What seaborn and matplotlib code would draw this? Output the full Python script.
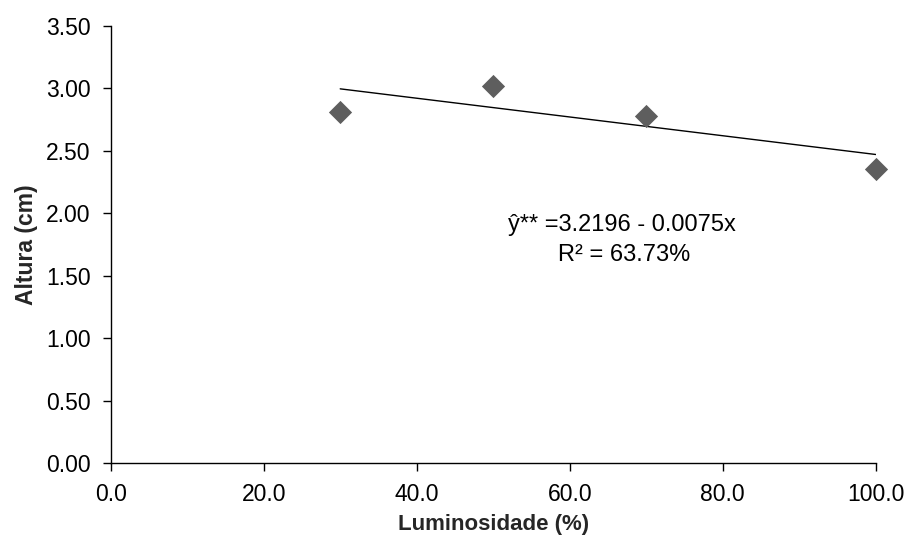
import matplotlib
matplotlib.use("Agg")
import matplotlib.pyplot as plt
import seaborn as sns
import pandas as pd
from matplotlib.ticker import FormatStrFormatter

# Data
luminosidade = [30, 50, 70, 100]
altura = [2.81, 3.02, 2.78, 2.35]
trend_x = [30, 100]
trend_y = [2.995, 2.47]
x_ticks = [0, 20, 40, 60, 80, 100]
y_ticks = [0.0, 0.5, 1.0, 1.5, 2.0, 2.5, 3.0, 3.5]
equation_text = "ŷ** =3.2196 - 0.0075x"
r2_text = "R² = 63.73%"

df = pd.DataFrame({"Luminosidade": luminosidade, "Altura": altura})
trend = pd.DataFrame({"x": trend_x, "y": trend_y})

sns.set_style("white")
plt.rcParams["font.family"] = ["Liberation Sans", "DejaVu Sans"]

fig = plt.figure(figsize=(9.09, 5.40), dpi=100)
ax = fig.add_axes([0.1218, 0.142, 0.8416, 0.8104])

sns.lineplot(data=trend, x="x", y="y", ax=ax, color="black", linewidth=1.0)
sns.scatterplot(data=df, x="Luminosidade", y="Altura", ax=ax, marker="D",
                s=140, color="#5e5e5e", linewidth=0, zorder=3)
for coll in ax.collections:
    coll.set_clip_on(False)

ax.set_xlim(0, 100)
ax.set_ylim(0, 3.5)
ax.set_xticks(x_ticks)
ax.set_yticks(y_ticks)
ax.xaxis.set_major_formatter(FormatStrFormatter("%.1f"))
ax.yaxis.set_major_formatter(FormatStrFormatter("%.2f"))
ax.tick_params(axis="both", direction="out", length=6, width=1, color="black",
               labelsize=16.5, labelcolor="black", bottom=True, left=True)
ax.tick_params(axis="y", pad=8.5)
ax.tick_params(axis="x", pad=8)

for side in ["top", "right"]:
    ax.spines[side].set_visible(False)
for side in ["left", "bottom"]:
    ax.spines[side].set_color("black")
    ax.spines[side].set_linewidth(1.0)

ax.set_xlabel("Luminosidade (%)", fontsize=16, fontweight="bold", labelpad=6)
ax.set_ylabel("Altura (cm)", fontsize=16.5, fontweight="bold", labelpad=6)

ax.text(0.668, 0.5446, equation_text, transform=ax.transAxes, ha="center",
        va="center", fontsize=17, color="black")
ax.text(0.671, 0.476, r2_text, transform=ax.transAxes, ha="center",
        va="center", fontsize=17, color="black")

fig.savefig("out.png", dpi=100)
